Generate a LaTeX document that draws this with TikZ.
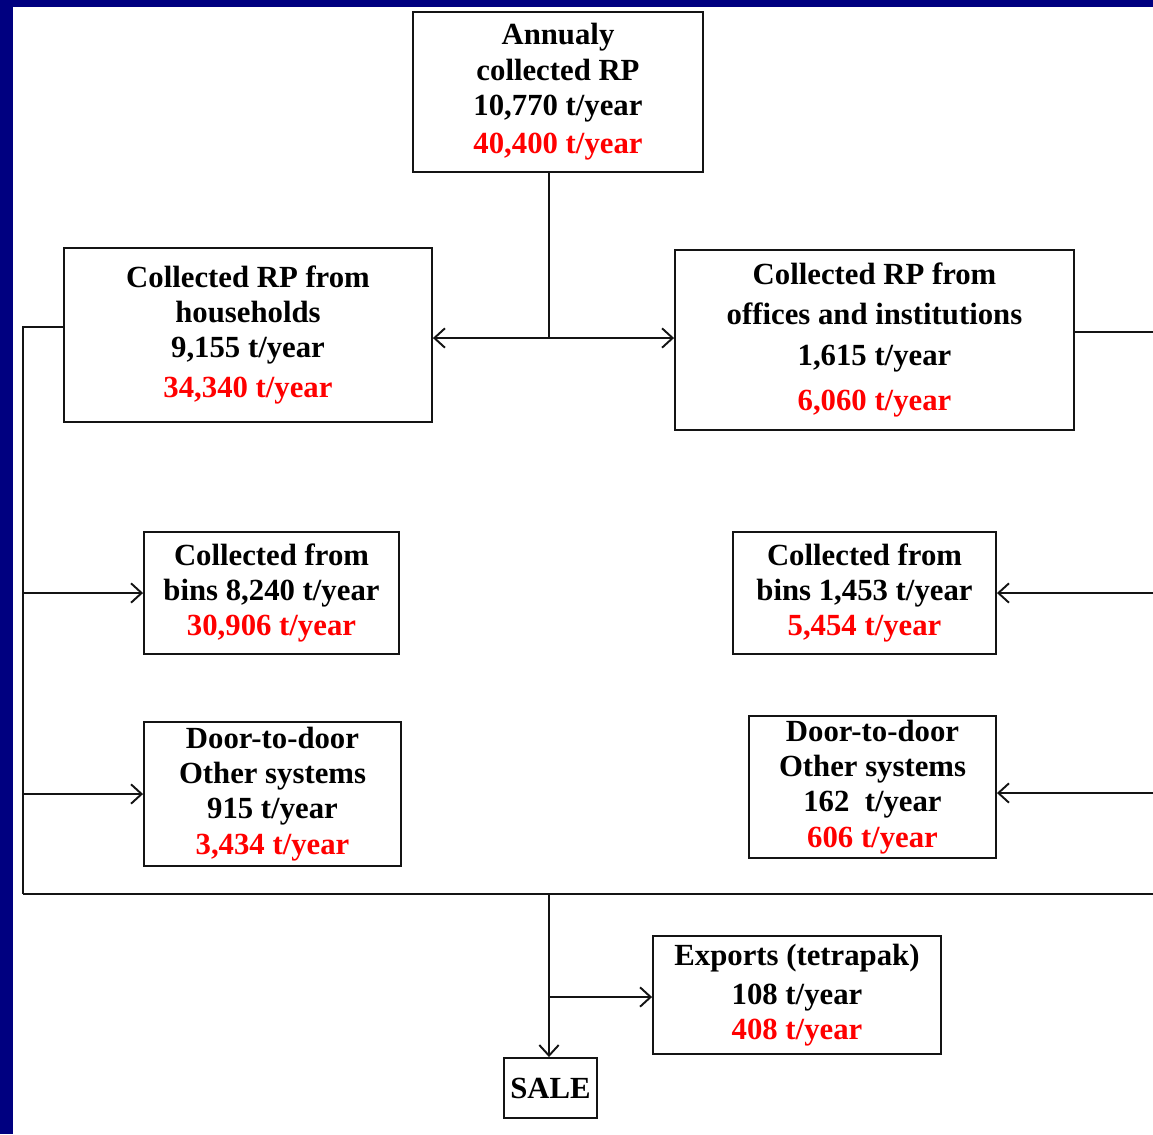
\documentclass[tikz,border=0pt]{standalone}
\usepackage{fontspec}
\setmainfont{Liberation Serif}
\usetikzlibrary{positioning, arrows.meta}
\definecolor{framecolor}{RGB}{0, 0, 128}
\definecolor{amountcolor}{RGB}{255, 0, 0}
\definecolor{linecolor}{RGB}{20, 20, 20}

\newcommand{\amount}[1]{\textcolor{amountcolor}{#1}}

\begin{document}
\begin{tikzpicture}[
    x=0.02cm, y=-0.02cm,
    box/.style={rectangle, draw=linecolor, line width=1.1pt, fill=white, align=center, inner sep=0pt, font=\fontsize{17.5}{20}\selectfont\bfseries},
    link/.style={draw=linecolor, line width=1.1pt},
    arrow/.style={link, -{Straight Barb[length=6pt, width=11pt]}},
]

% ======= PAGE FRAME =======
\fill[framecolor] (0,0) rectangle (1153,1134);
\fill[white] (13,7) rectangle (1153,1134);
\useasboundingbox (0,0) rectangle (1153,1134);
\clip (0,0) rectangle (1153,1134);

% --- Bus positions ---
\def\leftbus{23}
\def\rightbus{1162}
\def\midbus{549}

% ======= TOTAL =======
\node[box, minimum width=5.8cm, minimum height=3.2cm] (total) at (558,92)
    {Annualy\\collected RP\\10,770 t/year\\[2pt]\amount{40,400 t/year}};

% ======= SOURCES =======
\node[box, minimum width=7.36cm, minimum height=3.48cm] (house) at (248,335)
    {Collected RP from\\households\\9,155 t/year\\[3pt]\amount{34,340 t/year}};
\node[box, minimum width=7.98cm, minimum height=3.6cm, font=\fontsize{17.5}{23}\selectfont\bfseries] (office) at (874.5,340)
    {Collected RP from\\offices and institutions\\1,615 t/year\\[3pt]\amount{6,060 t/year}};

% ======= COLLECTION SYSTEMS =======
\node[box, minimum width=5.1cm, minimum height=2.44cm] (binsL) at (271.5,593)
    {Collected from\\bins 8,240 t/year\\\amount{30,906 t/year}};
\node[box, minimum width=5.14cm, minimum height=2.88cm] (doorL) at (272.5,794)
    {Door-to-door\\Other systems\\915 t/year\\\amount{3,434 t/year}};
\node[box, minimum width=5.26cm, minimum height=2.44cm] (binsR) at (864.5,593)
    {Collected from\\bins 1,453 t/year\\\amount{5,454 t/year}};
\node[box, minimum width=4.94cm, minimum height=2.84cm] (doorR) at (872.5,787)
    {Door-to-door\\Other systems\\162\ \ t/year\\\amount{606 t/year}};

% ======= OUTLETS =======
\node[box, minimum width=5.76cm, minimum height=2.36cm] (exports) at (797,995)
    {Exports (tetrapak)\\[2pt]108 t/year\\\amount{408 t/year}};
\node[box, minimum width=1.86cm, minimum height=1.2cm] (sale) at (550.5,1088) {SALE};

% ======= JUNCTIONS =======
\coordinate (split) at (\midbus,338);
\coordinate (left-top) at (\leftbus,327);
\coordinate (left-bottom) at (\leftbus,894);
\coordinate (right-top) at (\rightbus,332);
\coordinate (right-bottom) at (\rightbus,894);
\coordinate (merge) at (\midbus,894);
\coordinate (export-split) at (\midbus,997);

% ======= CONNECTIONS =======
% Total -> sources
\draw[link] (split |- total.south) -- (split);
\draw[arrow] (split) -- (split -| house.east);
\draw[arrow] (split) -- (split -| office.west);

% Households -> systems
\draw[link] (left-top -| house.west) -- (left-top) -- (left-bottom);
\draw[arrow] (left-top |- binsL) -- (binsL.west);
\draw[arrow] (left-top |- doorL) -- (doorL.west);

% Offices -> systems
\draw[link] (right-top -| office.east) -- (right-top) -- (right-bottom);
\draw[arrow] (right-top |- binsR) -- (binsR.east);
\draw[arrow] ([yshift=-0.12cm]right-top |- doorR) -- ([yshift=-0.12cm]doorR.east);

% Systems -> outlets
\draw[link] (left-bottom) -- (right-bottom);
\draw[arrow] (merge) -- (merge |- sale.north);
\draw[arrow] (export-split) -- (export-split -| exports.west);

\end{tikzpicture}
\end{document}
